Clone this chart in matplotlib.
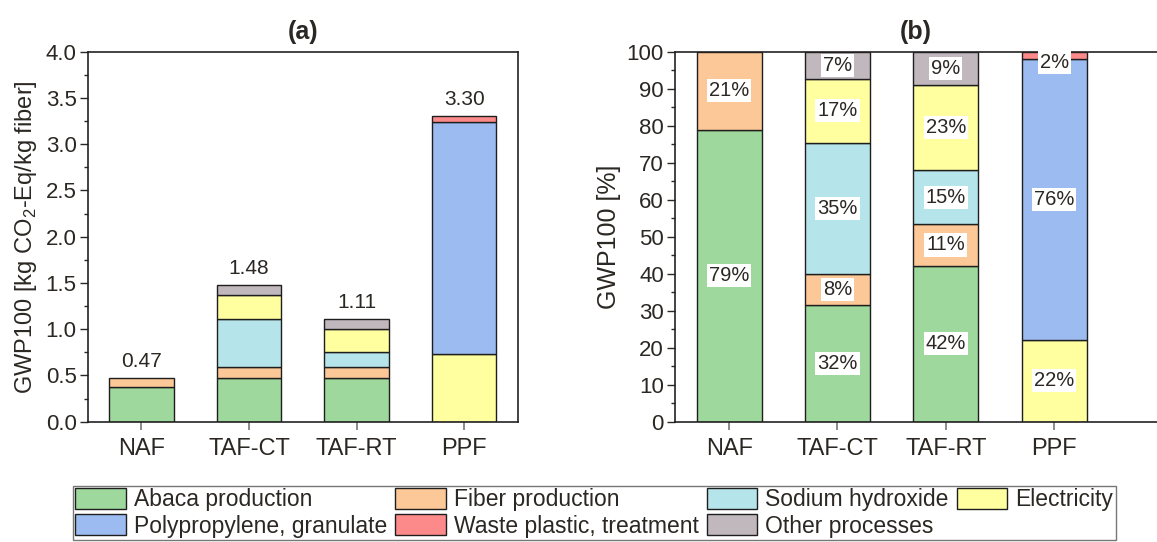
import numpy as np
import matplotlib.pyplot as plt
from matplotlib.patches import Patch
from matplotlib.ticker import MultipleLocator

plt.rcParams['font.family'] = ['Liberation Sans', 'DejaVu Sans']
plt.rcParams['text.color'] = '#2b2722'
plt.rcParams['axes.labelcolor'] = '#2b2722'
plt.rcParams['xtick.color'] = '#2b2722'
plt.rcParams['ytick.color'] = '#2b2722'
plt.rcParams['mathtext.fontset'] = 'custom'
plt.rcParams['mathtext.rm'] = 'Liberation Sans'

# fibers (x axis)
fibers = ["NAF", "TAF-CT", "TAF-RT", "PPF"]

# processes, in stacking order
processes = ["Abaca production", "Fiber production", "Sodium hydroxide", "Electricity",
             "Polypropylene, granulate", "Waste plastic, treatment", "Other processes"]
colors = ["#9fd89c", "#fdc897", "#b5e4ea", "#ffff9f", "#9bbbf1", "#fd8a8a", "#c0b8bc"]

# (a) absolute GWP100 [kg CO2-Eq/kg fiber], one list per process (NAF, TAF-CT, TAF-RT, PPF)
abaca = [0.37, 0.47, 0.47, 0.00]
fiber_prod = [0.10, 0.12, 0.12, 0.00]
naoh = [0.00, 0.525, 0.165, 0.00]
electricity = [0.00, 0.25, 0.25, 0.73]
polypropylene = [0.00, 0.00, 0.00, 2.51]
waste_plastic = [0.00, 0.00, 0.00, 0.06]
other = [0.00, 0.115, 0.105, 0.00]

# (b) share of GWP100 [%]
abaca_pct = [78.9, 31.5, 42.2, 0.0]
fiber_prod_pct = [21.1, 8.4, 11.1, 0.0]
naoh_pct = [0.0, 35.4, 14.6, 0.0]
electricity_pct = [0.0, 17.4, 23.2, 22.1]
polypropylene_pct = [0.0, 0.0, 0.0, 75.8]
waste_plastic_pct = [0.0, 0.0, 0.0, 2.1]
other_pct = [0.0, 7.3, 8.9, 0.0]

gwp = np.array([abaca, fiber_prod, naoh, electricity, polypropylene, waste_plastic, other])
share = np.array([abaca_pct, fiber_prod_pct, naoh_pct, electricity_pct,
                  polypropylene_pct, waste_plastic_pct, other_pct])

x = np.arange(1, len(fibers) + 1)
width = 0.6
edge = "#1e1e1e"

fig = plt.figure(figsize=(11.57, 5.42), dpi=100)
ax_a = fig.add_axes([0.0758, 0.222, 0.3719, 0.6827])
ax_b = fig.add_axes([0.5834, 0.222, 0.4166, 0.6827])


def stack(ax, data):
    bottom = np.zeros(len(fibers))
    for vals, c in zip(data, colors):
        for i in range(len(fibers)):
            if vals[i] > 0:
                ax.bar(x[i], vals[i], width, bottom=bottom[i], color=c,
                       edgecolor=edge, linewidth=1.0, zorder=2)
        bottom = bottom + vals
    return bottom


# ---- (a) absolute values
totals = stack(ax_a, gwp)
for xi, t in zip(x, totals):
    ax_a.annotate(f"{t:.2f}", (xi, t), xytext=(0, 5), textcoords="offset points",
                  ha="center", va="bottom", fontsize=15)
ax_a.set_ylim(0, 4.0)
ax_a.set_xlim(0.5, 4.5)
ax_a.yaxis.set_major_locator(MultipleLocator(0.5))
ax_a.yaxis.set_minor_locator(MultipleLocator(0.25))
ax_a.yaxis.set_major_formatter(lambda v, p: f"{v:.1f}")
ax_a.set_ylabel("GWP100 [kg CO$_2$-Eq/kg fiber]", fontsize=17, labelpad=5)
ax_a.set_title("(a)", fontsize=18, fontweight="bold", pad=9)

# ---- (b) relative values
stack(ax_b, share)
for j in range(len(processes)):
    bottom = share[:j].sum(axis=0)
    for i in range(len(fibers)):
        v = share[j, i]
        if v <= 0:
            continue
        yc = min(bottom[i] + v / 2, 97)
        ax_b.text(x[i], yc, f"{v:.0f}%", ha="center", va="center", fontsize=14.5,
                  zorder=4, bbox=dict(facecolor="white", edgecolor="none", pad=1.5))
ax_b.set_ylim(0, 100)
ax_b.set_xlim(0.5, 4.95)
ax_b.yaxis.set_major_locator(MultipleLocator(10))
ax_b.yaxis.set_minor_locator(MultipleLocator(5))
ax_b.set_ylabel("GWP100 [%]", fontsize=18, labelpad=4)
ax_b.set_title("(b)", fontsize=18, fontweight="bold", pad=9)
ax_b.spines["right"].set_visible(False)

for ax in (ax_a, ax_b):
    ax.set_xticks(x)
    ax.set_xticklabels(fibers, fontsize=17)
    ax.tick_params(axis="x", direction="out", length=6, width=1.2, color="#777777", pad=6)
    ax.tick_params(axis="y", which="major", direction="out", length=6, width=1.0,
                   labelsize=16, pad=2)
    ax.tick_params(axis="y", which="minor", direction="out", length=3, width=1.0)
    for s in ax.spines.values():
        s.set_linewidth(1.2)
        s.set_color("#222222")

# ---- legend
handles = [Patch(facecolor=c, edgecolor=edge, linewidth=1.0, label=p)
           for p, c in zip(processes, colors)]
order = [0, 4, 1, 5, 2, 6, 3]
leg = fig.legend([handles[k] for k in order], [processes[k] for k in order],
                 loc="upper left", bbox_to_anchor=(0.063, 0.104), ncol=4,
                 fontsize=16.5, frameon=True, fancybox=False, borderpad=0.1,
                 handlelength=2.2, handleheight=1.05, handletextpad=0.36,
                 columnspacing=0.35, labelspacing=0.12, borderaxespad=0)
leg.get_frame().set_edgecolor("#555555")
leg.get_frame().set_linewidth(1.0)

fig.savefig("out.png", dpi=100)
